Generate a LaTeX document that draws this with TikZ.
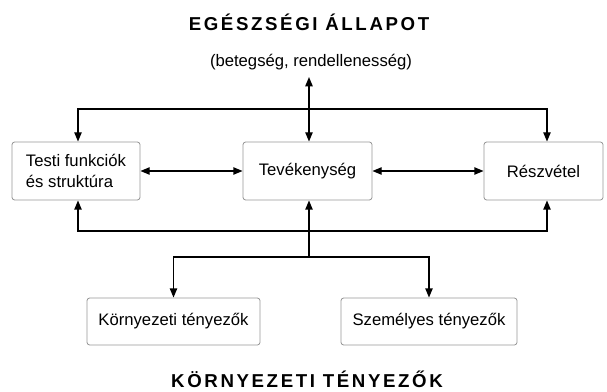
\documentclass[tikz,border=0pt]{standalone}
\usepackage{fontspec}
\setmainfont{Liberation Sans}
\newfontfamily\headfont[LetterSpace=14]{Liberation Sans}
\usetikzlibrary{arrows.meta}

\tikzset{
  doboz/.style={draw={rgb,255:red,150;green,150;blue,150}, line width=0.6pt, rounded corners=2pt,
    inner sep=0pt, align=left, font=\fontsize{12.5}{16}\selectfont},
  nyil/.style={line width=1.1pt, >={Triangle[length=7pt,width=5.5pt]}},
  cim/.style={inner sep=0pt, anchor=base, font=\headfont\fontsize{14}{16}\selectfont\bfseries}
}

\begin{document}
\begin{tikzpicture}[x=0.75pt,y=0.75pt,yscale=-1,xscale=1]
\useasboundingbox (0,0) rectangle (607,392);

% Text Node
\node [cim] (egeszseg) at (309,31) {EGÉSZSÉGI ÁLLAPOT};
% Text Node
\node [inner sep=0pt, font=\fontsize{12.5}{16}\selectfont] (betegseg) at (311,62) {(betegség, rendellenesség)};

%Shape: Rectangle
\node [doboz, minimum width=128*0.75pt, minimum height=58*0.75pt] (testi) at (76,171) {Testi funkciók\\és struktúra};
%Shape: Rectangle
\node [doboz, minimum width=129*0.75pt, minimum height=58*0.75pt] (tev) at (307.5,171) {Tevékenység};
%Shape: Rectangle
\node [doboz, minimum width=119*0.75pt, minimum height=58*0.75pt] (resz) at (543.5,171) {Részvétel};
%Shape: Rectangle
\node [doboz, minimum width=173*0.75pt, minimum height=47*0.75pt] (korny) at (173.5,321.5) {Környezeti tényezők};
%Shape: Rectangle
\node [doboz, minimum width=176*0.75pt, minimum height=47*0.75pt] (szem) at (429,321.5) {Személyes tényezők};

% Text Node
\node [cim] (kornyezet) at (307,387) {KÖRNYEZETI TÉNYEZŐK};

\coordinate (fent) at (309,77);
\coordinate (fbal) at (78,109);
\coordinate (fjobb) at (547,109);
\coordinate (abal) at (78,231);
\coordinate (ajobb) at (547,231);
\coordinate (elag) at (309,257);

%Straight Lines
\draw [nyil, <->] (fent) -- (tev.north -| fent);
\draw [nyil, <->] (testi.north -| fbal) -- (fbal) -- (fjobb) -- (resz.north -| fjobb);
\draw [nyil, <->] (testi.east) -- (tev.west);
\draw [nyil, <->] (tev.east) -- (resz.west);
\draw [nyil, <->] (testi.south -| abal) -- (abal) -- (ajobb) -- (resz.south -| ajobb);
\draw [nyil, ->] (elag) -- (tev.south -| elag);
\draw [nyil, <->] (korny.north) |- (elag) -| (szem.north);

\end{tikzpicture}
\end{document}
